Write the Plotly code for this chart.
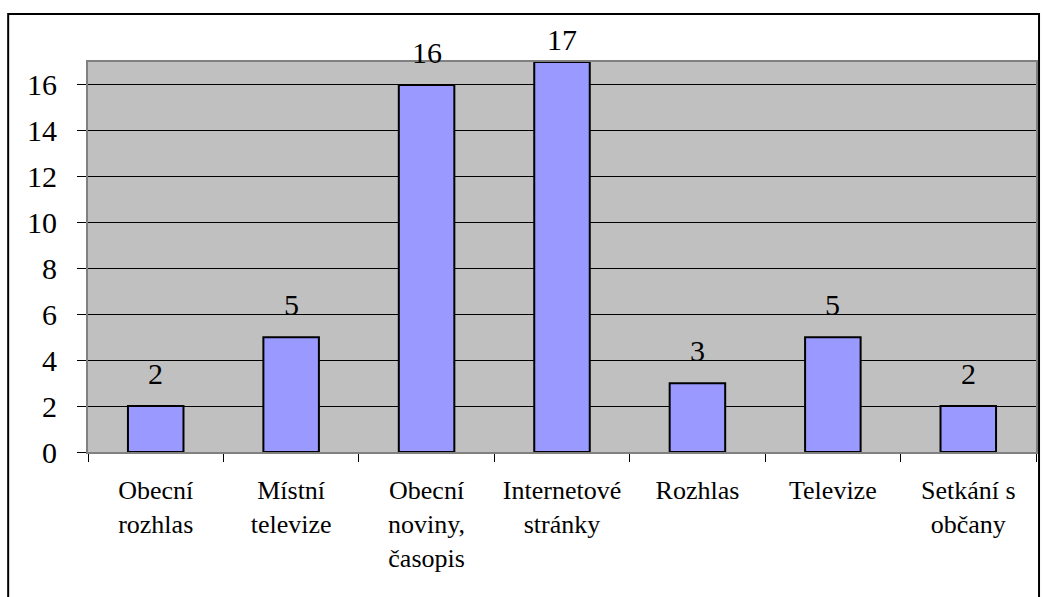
import plotly.graph_objects as go

categories = ["Obecní<br>rozhlas", "Místní<br>televize", "Obecní<br>noviny,<br>časopis",
              "Internetové<br>stránky", "Rozhlas", "Televize", "Setkání s<br>občany"]
values = [2, 5, 16, 17, 3, 5, 2]
y_range = [0, 17]
y_dtick = 2

FONT = "Liberation Serif"

fig = go.Figure()
fig.add_trace(go.Bar(
    x=categories, y=values,
    marker=dict(color="#9999FF", line=dict(color="black", width=2)),
    width=0.41,
    hoverinfo="skip",
))

vmax = max(values)
for c, v in zip(categories, values):
    fig.add_annotation(
        x=c, y=v, text=str(v), showarrow=False,
        yanchor="bottom", yshift=(4 if v == vmax else 14),
        font=dict(family=FONT, size=30, color="black"),
    )

fig.update_layout(
    width=1043, height=597,
    margin=dict(l=88, r=5, t=62, b=145),
    paper_bgcolor="white",
    plot_bgcolor="#C0C0C0",
    showlegend=False,
    font=dict(family=FONT, color="black"),
)

fig.update_xaxes(
    type="category",
    showgrid=False,
    showline=True, linecolor="#808080", linewidth=2, mirror=True,
    ticks="outside", ticklen=8, tickcolor="black", tickwidth=1,
    tickson="boundaries",
    tickfont=dict(family=FONT, size=26, color="black"),
    ticklabelstandoff=14,
)
fig.update_yaxes(
    range=y_range, dtick=y_dtick,
    showgrid=True, gridcolor="black", gridwidth=1,
    zeroline=True, zerolinecolor="black", zerolinewidth=1,
    showline=True, linecolor="#808080", linewidth=2, mirror=True,
    ticks="outside", ticklen=9, tickcolor="black", tickwidth=1,
    tickfont=dict(family=FONT, size=30, color="black"),
    ticklabelstandoff=14,
)

# outer chart border
fig.add_shape(type="rect", xref="paper", yref="paper",
              x0=-0.0842, x1=1.0032, y0=-0.40, y1=1.1231,
              line=dict(color="black", width=2), layer="above")

fig.write_html("out.html")
